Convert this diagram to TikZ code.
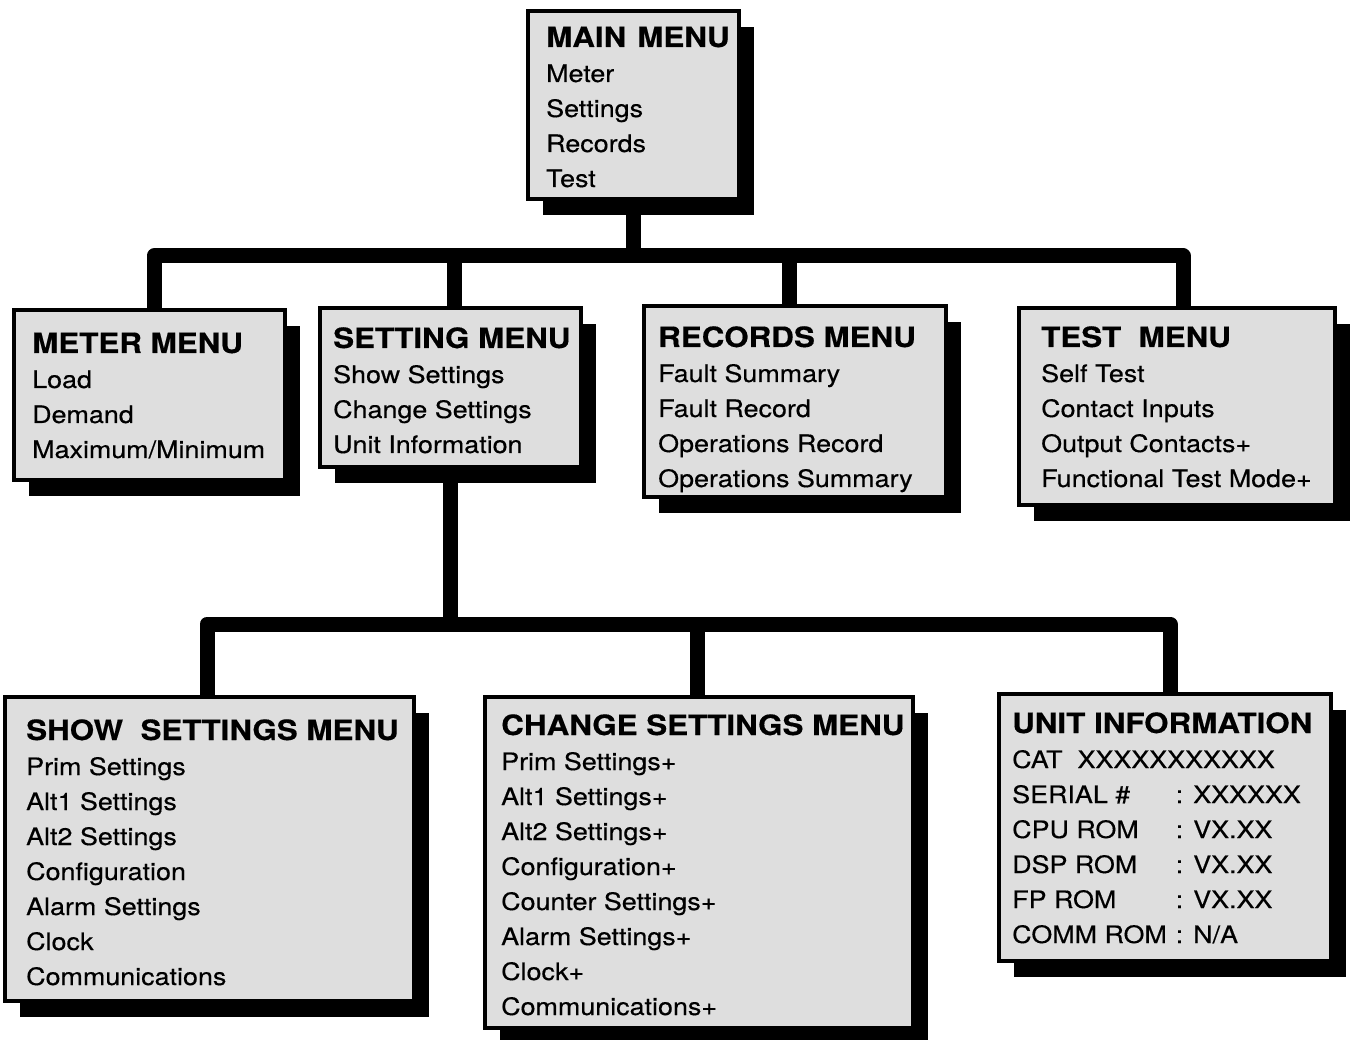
\documentclass[tikz,border=0pt]{standalone}
\usepackage{fontspec}
\setmainfont{TeX Gyre Heros}[FakeStretch=1.12, FakeBold=0.4]
\usetikzlibrary{shadows}

% menu title inside a box
\newcommand\menutitle[1]{{\fontsize{28}{35}\selectfont\bfseries #1}}

\tikzset{
  menubox/.style={draw=black, line width=4pt, fill=black!13, inner sep=0pt,
    general shadow={fill=black, shadow xshift=15pt, shadow yshift=-16pt}},
  menutext/.style={anchor=base west, inner sep=0pt,
    font=\fontsize{24}{35}\selectfont},
  conn/.style={line width=15pt, black, line join=round, line cap=butt}
}

\begin{document}
\begin{tikzpicture}[x=1pt, y=-1pt]
\useasboundingbox (0,0) rectangle (1353,1040);

% tap points on the two buses
\coordinate (tMain)   at (634,256);
\coordinate (tMeter)  at (154,256);
\coordinate (tSet)    at (454,256);
\coordinate (tRec)    at (789,256);
\coordinate (tTest)   at (1183,256);
\coordinate (tShow)   at (207,624);
\coordinate (tChange) at (697,624);
\coordinate (tUnit)   at (1170,624);

% boxes
\node[menubox, minimum width=211pt, minimum height=188pt] (main)    at (633.5,105)   {};
\node[menubox, minimum width=271pt, minimum height=170pt] (meter)   at (149.5,395)   {};
\node[menubox, minimum width=261pt, minimum height=159pt] (setting) at (450.5,387.5) {};
\node[menubox, minimum width=302pt, minimum height=191pt] (records) at (795,401.5)   {};
\node[menubox, minimum width=316pt, minimum height=197pt] (test)    at (1177,406.5)  {};
\node[menubox, minimum width=409pt, minimum height=304pt] (show)    at (209.5,849)   {};
\node[menubox, minimum width=428pt, minimum height=331pt] (change)  at (699,862.5)   {};
\node[menubox, minimum width=332pt, minimum height=267pt] (unit)    at (1165,827.5)  {};

% upper tree
\draw[conn] (main.south) -- (main.south |- tMain);
\draw[conn] (tMeter |- meter.north) -- (tMeter) -- (tTest) -- (tTest |- test.north);
\draw[conn] (tSet) -- (tSet |- setting.north);
\draw[conn] (tRec) -- (tRec |- records.north);

% lower tree
\draw[conn] (setting.south) -- (setting.south |- tShow);
\draw[conn] (tShow |- show.north) -- (tShow) -- (tUnit) -- (tUnit |- unit.north);
\draw[conn] (tChange) -- (tChange |- change.north);

% box texts
\node[menutext] (mainT) at (546,47) {\begin{tabular}[t]{@{}l@{}}
\menutitle{MAIN\hspace{11pt}MENU}\\ Meter\\ Settings\\ Records\\ Test\end{tabular}};

\node[menutext] (meterT) at (32,353) {\begin{tabular}[t]{@{}l@{}}
\menutitle{METER MENU}\\ Load\\ Demand\\ Maximum/Minimum\end{tabular}};

\node[menutext] (settingT) at (333,348) {\begin{tabular}[t]{@{}l@{}}
\menutitle{SETTING MENU}\\ Show Settings\\ Change Settings\\ Unit Information\end{tabular}};

\node[menutext] (recordsT) at (658,347) {\begin{tabular}[t]{@{}l@{}}
\menutitle{RECORDS MENU}\\ Fault Summary\\ Fault Record\\ Operations Record\\ Operations Summary\end{tabular}};

\node[menutext] (testT) at (1041,347) {\begin{tabular}[t]{@{}l@{}}
\menutitle{TEST\ \ MENU}\\ Self Test\\ Contact Inputs\\ Output Contacts+\\ Functional Test Mode+\end{tabular}};

\node[menutext] (showT) at (26,740) {\begin{tabular}[t]{@{}l@{}}
\menutitle{SHOW\ \ SETTINGS MENU}\\ Prim Settings\\ Alt1 Settings\\ Alt2 Settings\\ Configuration\\ Alarm Settings\\ Clock\\ Communications\end{tabular}};

\node[menutext] (changeT) at (501,735) {\begin{tabular}[t]{@{}l@{}}
\menutitle{CHANGE SETTINGS MENU}\\ Prim Settings+\\ Alt1 Settings+\\ Alt2 Settings+\\ Configuration+\\ Counter Settings+\\ Alarm Settings+\\ Clock+\\ Communications+\end{tabular}};

\node[menutext] (unitT) at (1012,733) {\begin{tabular}[t]{@{}l@{}l@{}}
\multicolumn{2}{@{}l@{}}{\menutitle{UNIT INFORMATION}}\\
\multicolumn{2}{@{}l@{}}{CAT\ \ XXXXXXXXXXX}\\
SERIAL \#&: XXXXXX\\
CPU ROM&: VX.XX\\
DSP ROM&: VX.XX\\
FP ROM&: VX.XX\\
COMM ROM\hspace*{9pt}&: N/A\end{tabular}};
\end{tikzpicture}
\end{document}
